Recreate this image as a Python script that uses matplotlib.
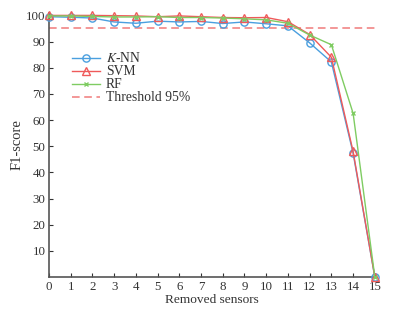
import matplotlib
matplotlib.use("Agg")
import matplotlib.pyplot as plt

removed = list(range(16))
knn = [99.5, 99.3, 99.0, 97.5, 97.0, 97.8, 97.5, 97.7, 96.9, 97.5, 96.8, 96.0, 89.5, 82.2, 47.4, 0.0]
svm = [100.0, 100.0, 100.0, 99.9, 99.8, 99.5, 99.8, 99.5, 99.2, 99.1, 99.2, 97.6, 92.7, 84.0, 48.0, 0.0]
rf = [99.8, 99.8, 99.6, 99.4, 99.4, 99.5, 99.2, 99.2, 99.0, 98.7, 98.3, 97.0, 92.5, 88.8, 62.6, 0.0]
threshold = 95

plt.rcParams['font.family'] = ['Liberation Serif', 'DejaVu Serif']
plt.rcParams['mathtext.fontset'] = 'stix'

fig = plt.figure(figsize=(4.11, 3.12), dpi=100)
ax = fig.add_axes([0.119, 0.112, 0.793, 0.847])

c_knn = '#4a9fdf'
c_svm = '#ef5a5a'
c_rf = '#7fcc62'

ax.plot(removed, knn, color=c_knn, lw=1.0, marker='o', ms=5.2, mfc='none', mew=1.0, label='$K$-NN', clip_on=False, zorder=3)
ax.plot(removed, svm, color=c_svm, lw=1.0, marker='^', ms=5.2, mfc='none', mew=1.0, label='SVM', clip_on=False, zorder=4)
ax.plot(removed, rf, color=c_rf, lw=1.0, marker='x', ms=3.5, mew=1.0, label='RF', clip_on=False, zorder=5)
ax.axhline(threshold, color='#f07a7a', lw=1.1, ls=(0, (5, 3)), label='Threshold 95%')

ax.set_xlim(0, 15)
ax.set_ylim(0, 101)
ax.set_xticks(removed)
ax.set_yticks(range(10, 101, 10))
ax.tick_params(direction='in', labelsize=9.3, colors='#333333', length=3, pad=2.5)
for s in ['top', 'right']:
    ax.spines[s].set_visible(False)
for s in ['left', 'bottom']:
    ax.spines[s].set_color('#555555')
    ax.spines[s].set_linewidth(1.2)
ax.set_xlabel('Removed sensors', fontsize=9.6, color='#333333', labelpad=1)
ax.set_ylabel('F1-score', fontsize=10.5, color='#333333', labelpad=2)

leg = ax.legend(loc='upper left', bbox_to_anchor=(0.053, 0.875), frameon=False, fontsize=9.8,
                handlelength=2.05, labelspacing=0.0, borderaxespad=0, handletextpad=0.45)
for t in leg.get_texts():
    t.set_color('#333333')

fig.savefig('out.png', dpi=100)
